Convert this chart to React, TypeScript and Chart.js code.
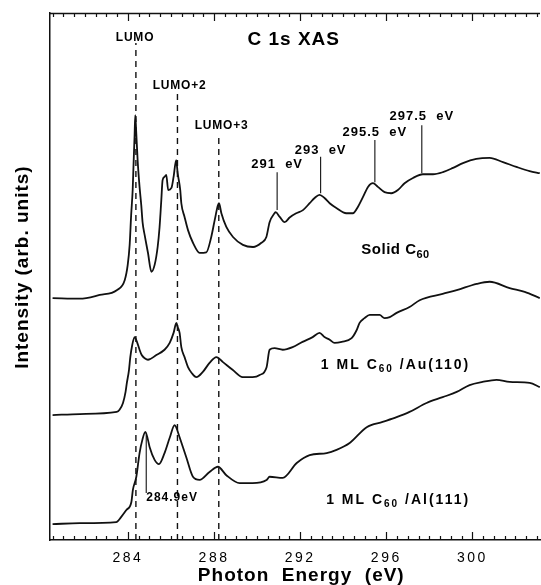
import React, { useEffect, useRef } from 'react';
import { Chart, registerables } from 'chart.js';

Chart.register(...registerables);

const FAMILY = '"Liberation Sans", Arial, Helvetica, sans-serif';

// ---------------- data (photon energy in eV, intensity in arb. units, spectra vertically offset) ----------------
const solidE = [280.50, 281.76, 282.69, 283.48, 283.85, 283.99, 284.08, 284.15, 284.22, 284.26, 284.31, 284.34, 284.38, 284.45, 284.54, 284.62, 284.68, 284.78, 284.93, 285.09, 285.24, 285.38, 285.47, 285.55, 285.61, 285.70, 285.78, 285.87, 286.02, 286.12, 286.24, 286.31, 286.43, 286.48, 286.63, 286.79, 287.02, 287.33, 287.64, 287.87, 288.03, 288.18, 288.23, 288.34, 288.57, 288.88, 289.34, 289.81, 290.20, 290.43, 290.58, 290.81, 290.86, 291.05, 291.28, 291.51, 291.82, 292.13, 292.44, 292.67, 292.90, 293.13, 293.37, 293.68, 294.14, 294.45, 294.68, 294.92, 295.15, 295.38, 295.61, 295.92, 296.23, 296.54, 296.85, 297.24, 297.70, 298.17, 298.63, 299.10, 299.56, 300.18, 300.80, 301.42, 302.04, 302.66, 303.13];
const solidI = [45.9, 45.8, 46.5, 47.4, 49.3, 52.2, 56.0, 61.7, 66.4, 71.2, 76.9, 80.6, 77.8, 72.1, 67.0, 63.5, 60.3, 57.8, 54.5, 50.9, 52.2, 55.6, 59.4, 64.5, 68.3, 68.9, 69.3, 66.4, 66.8, 68.9, 72.1, 69.6, 66.4, 63.9, 61.3, 58.8, 56.4, 54.5, 54.6, 57.5, 60.7, 63.5, 63.9, 62.0, 59.4, 57.5, 56.0, 55.6, 56.4, 57.5, 60.3, 62.0, 62.2, 61.3, 60.3, 61.2, 62.0, 62.6, 63.9, 64.9, 65.5, 64.9, 63.9, 63.0, 62.0, 62.0, 63.2, 65.1, 67.0, 67.7, 67.0, 66.0, 65.8, 66.4, 67.7, 68.7, 69.4, 69.4, 69.8, 70.6, 71.5, 72.3, 72.5, 71.7, 70.8, 70.0, 69.6];

const auE = [280.50, 281.76, 283.48, 283.61, 283.77, 283.89, 283.95, 284.05, 284.11, 284.20, 284.31, 284.42, 284.54, 284.64, 284.78, 284.93, 285.32, 285.70, 285.94, 286.12, 286.25, 286.31, 286.40, 286.48, 286.63, 286.79, 286.96, 287.18, 287.48, 287.79, 288.11, 288.40, 288.86, 289.33, 289.79, 290.12, 290.44, 290.58, 290.81, 291.19, 291.65, 292.11, 292.58, 292.90, 293.13, 293.37, 293.60, 293.93, 294.39, 294.62, 294.76, 294.99, 295.23, 295.69, 295.92, 296.16, 296.48, 297.08, 297.55, 298.62, 299.27, 300.20, 300.80, 301.73, 302.43, 303.13];
const auI = [23.7, 23.9, 24.3, 24.7, 26.0, 28.1, 29.8, 32.3, 34.7, 37.0, 38.5, 37.6, 36.1, 35.1, 34.5, 34.2, 35.1, 36.1, 37.4, 39.3, 41.2, 40.4, 39.3, 36.6, 34.7, 32.8, 31.7, 30.9, 31.9, 33.6, 34.7, 33.8, 32.3, 30.9, 30.9, 31.3, 32.8, 36.1, 36.4, 36.1, 36.6, 37.6, 38.5, 39.3, 38.5, 38.0, 37.4, 37.6, 38.3, 39.8, 41.2, 42.1, 42.7, 42.7, 42.1, 42.3, 43.1, 44.2, 45.5, 46.7, 47.4, 48.6, 49.0, 47.8, 47.1, 45.9];

const alE = [280.50, 281.76, 283.46, 283.69, 283.93, 284.16, 284.23, 284.39, 284.54, 284.67, 284.81, 284.93, 285.01, 285.24, 285.44, 285.70, 285.94, 286.17, 286.24, 286.40, 286.71, 287.02, 287.33, 287.79, 288.18, 288.57, 289.19, 289.79, 290.44, 290.58, 291.19, 291.84, 292.44, 293.23, 293.69, 294.30, 295.09, 295.83, 296.48, 297.08, 297.87, 298.62, 299.27, 299.87, 300.47, 301.12, 301.73, 302.66, 303.13];
const alI = [3.0, 3.2, 3.4, 4.4, 5.7, 7.2, 9.5, 12.0, 16.5, 19.0, 20.5, 19.0, 17.6, 15.2, 14.4, 16.5, 19.4, 21.8, 21.4, 19.5, 15.7, 12.0, 11.4, 12.9, 13.9, 12.3, 10.8, 10.8, 11.4, 12.0, 11.8, 14.6, 16.1, 16.5, 17.1, 18.4, 21.4, 22.4, 23.3, 24.3, 26.0, 27.1, 28.1, 29.4, 30.0, 30.4, 30.0, 29.8, 29.0];

const xTickLabels = [284, 288, 292, 296, 300];
const xMin = 280.38;
const xMax = 303.14;
const yMin = 0;
const yMax = 100;

const orbitalNames = ['LUMO', 'LUMO+2', 'LUMO+3'];
const orbitalE = [284.37, 286.3, 288.22];
const orbitalLineTop = [94.3, 84.8, 77.2];
const orbitalLabelE = [284.33, 286.4, 288.35];
const orbitalLabelI = [95.4, 86.3, 78.7];

const featureNames = ['291  eV', '293  eV', '295.5  eV', '297.5  eV'];
const featureE = [290.93, 292.95, 295.47, 297.65];
const featureLineTop = [69.8, 72.7, 75.9, 78.7];
const featureLineBottom = [62.6, 65.8, 67.9, 69.6];
const featureLabelI = [71.2, 74.0, 77.4, 80.3];

const alPeakName = '284.9eV';
const alPeakE = 284.85;
const alPeakLineTop = 19.9;
const alPeakLineBottom = 8.9;
const alPeakLabelI = 8.0;

const titleText = 'C 1s XAS';
const titleE = 291.7;
const titleI = 94.9;

const spectrumLabels: { parts: [string, boolean][]; e: number; i: number; size: number; ls: number }[] = [
  { parts: [['Solid C', false], ['60', true]], e: 296.43, i: 55.0, size: 15, ls: 0.5 },
  { parts: [['1 ML C', false], ['60', true], [' /Au(110)', false]], e: 296.43, i: 33.2, size: 14, ls: 2 },
  { parts: [['1 ML C', false], ['60', true], [' /Al(111)', false]], e: 296.55, i: 7.6, size: 14, ls: 2 },
];

const toPts = (xs: number[], ys: number[]) => xs.map((x, k) => ({ x, y: ys[k] }));
const isLabelled = (v: number) => xTickLabels.some((l) => Math.abs(l - v) < 1e-6);

function drawRich(ctx: CanvasRenderingContext2D, parts: [string, boolean][], cx: number, cy: number, size: number, ls: number) {
  const fMain = `bold ${size}px ${FAMILY}`;
  const fSub = `bold ${Math.round(size * 0.72)}px ${FAMILY}`;
  (ctx as any).letterSpacing = ls + 'px';
  let total = 0;
  parts.forEach(([t, sub]) => {
    ctx.font = sub ? fSub : fMain;
    total += ctx.measureText(t).width;
  });
  let x = cx - total / 2;
  ctx.textAlign = 'left';
  ctx.textBaseline = 'middle';
  parts.forEach(([t, sub]) => {
    ctx.font = sub ? fSub : fMain;
    ctx.fillText(t, x, sub ? cy + size * 0.32 : cy);
    x += ctx.measureText(t).width;
  });
}

const decorations = {
  id: 'decorations',
  beforeDraw(chart: any) {
    (chart.ctx as any).letterSpacing = '1px';
  },
  afterDatasetsDraw(chart: any) {
    const { ctx, chartArea: a } = chart;
    const xs = chart.scales.x;
    const ys = chart.scales.y;
    ctx.save();
    ctx.strokeStyle = '#111';
    ctx.lineWidth = 1.5;
    ctx.beginPath();
    ctx.moveTo(a.left, a.top + 0.5);
    ctx.lineTo(a.right, a.top + 0.5);
    ctx.stroke();
    ctx.lineWidth = 1.2;
    xs.ticks.forEach((t: any) => {
      const px = Math.round(xs.getPixelForValue(t.value)) + 0.5;
      const len = isLabelled(t.value) ? 8 : 4;
      ctx.beginPath();
      ctx.moveTo(px, a.bottom);
      ctx.lineTo(px, a.bottom - len);
      ctx.moveTo(px, a.top);
      ctx.lineTo(px, a.top + len);
      ctx.stroke();
    });

    ctx.fillStyle = '#000';
    ctx.textAlign = 'center';
    ctx.textBaseline = 'middle';
    // title
    ctx.letterSpacing = '1px';
    ctx.font = `bold 19px ${FAMILY}`;
    ctx.fillText(titleText, xs.getPixelForValue(titleE), ys.getPixelForValue(titleI));
    // orbital labels
    ctx.font = `bold 12px ${FAMILY}`;
    ctx.letterSpacing = '0.8px';
    orbitalNames.forEach((n, k) => {
      ctx.fillText(n, xs.getPixelForValue(orbitalLabelE[k]), ys.getPixelForValue(orbitalLabelI[k]));
    });
    // feature labels
    ctx.font = `bold 13px ${FAMILY}`;
    ctx.letterSpacing = '1px';
    featureNames.forEach((n, k) => {
      ctx.fillText(n, xs.getPixelForValue(featureE[k]), ys.getPixelForValue(featureLabelI[k]));
    });
    // Al peak label
    ctx.font = `bold 12px ${FAMILY}`;
    ctx.textAlign = 'left';
    ctx.fillText(alPeakName, xs.getPixelForValue(alPeakE), ys.getPixelForValue(alPeakLabelI));
    // spectrum labels
    spectrumLabels.forEach((s) => {
      drawRich(ctx, s.parts, xs.getPixelForValue(s.e), ys.getPixelForValue(s.i), s.size, s.ls);
    });
    ctx.restore();
    (ctx as any).letterSpacing = '2.5px';
  },
  afterDraw(chart: any) {
    (chart.ctx as any).letterSpacing = '0px';
  },
};

export default function App() {
  const ref = useRef<HTMLCanvasElement>(null);
  useEffect(() => {
    if (!ref.current) return;
    Chart.defaults.font.family = FAMILY;
    const spectrum = (data: any[]) => ({
      data,
      borderColor: '#111',
      borderWidth: 1.8,
      pointRadius: 0,
      cubicInterpolationMode: 'monotone' as const,
      fill: false,
    });
    const vline = (e: number, lo: number, hi: number, dash: number[], w: number) => ({
      data: [{ x: e, y: lo }, { x: e, y: hi }],
      borderColor: '#111',
      borderWidth: w,
      borderDash: dash,
      pointRadius: 0,
      fill: false,
    });
    const datasets: any[] = [
      spectrum(toPts(solidE, solidI)),
      spectrum(toPts(auE, auI)),
      spectrum(toPts(alE, alI)),
      ...orbitalE.map((e, k) => vline(e, yMin, orbitalLineTop[k], [6, 5], 1.4)),
      ...featureE.map((e, k) => vline(e, featureLineBottom[k], featureLineTop[k], [], 1.1)),
      vline(alPeakE, alPeakLineBottom, alPeakLineTop, [], 1.1),
    ];
    const chart = new Chart(ref.current, {
      type: 'line',
      data: { datasets },
      plugins: [decorations],
      options: {
        animation: false,
        responsive: false,
        devicePixelRatio: 1,
        layout: { padding: { top: 13, right: 1, left: 0, bottom: 0 } },
        plugins: { legend: { display: false }, tooltip: { enabled: false } },
        scales: {
          x: {
            type: 'linear',
            min: xMin,
            max: xMax,
            grid: { display: false, drawTicks: true, tickLength: 10 },
            border: { display: true, color: '#111', width: 1.5 },
            ticks: {
              stepSize: 0.5,
              includeBounds: false,
              autoSkip: false,
              maxRotation: 0,
              minRotation: 0,
              padding: 0,
              z: 1,
              color: '#000',
              font: { size: 14, family: FAMILY },
              callback: (v: any) => (isLabelled(Number(v)) ? String(v) : ''),
            },
            title: {
              display: true,
              text: '  Photon  Energy  (eV)',
              color: '#000',
              font: { size: 19, weight: 'bold', family: FAMILY, lineHeight: 1 },
              padding: { top: 0, bottom: 0 },
            },
            afterFit: (s: any) => {
              s.height = 45;
            },
          },
          y: {
            type: 'linear',
            min: yMin,
            max: yMax,
            grid: { display: false, drawTicks: false },
            border: { display: true, color: '#111', width: 1.5 },
            ticks: { display: false },
            title: {
              display: true,
              text: '   Intensity (arb. units)',
              color: '#000',
              font: { size: 19, weight: 'bold', family: FAMILY, lineHeight: 1.2 },
              padding: { top: 11, bottom: 0 },
            },
            afterFit: (s: any) => {
              s.width = 50;
            },
          },
        },
      } as any,
    });
    return () => chart.destroy();
  }, []);
  return (
    <div style={{ position: 'absolute', left: 0, top: 0, width: 541, height: 585, background: '#fff' }}>
      <canvas ref={ref} width={541} height={585} style={{ display: 'block' }} />
    </div>
  );
}
